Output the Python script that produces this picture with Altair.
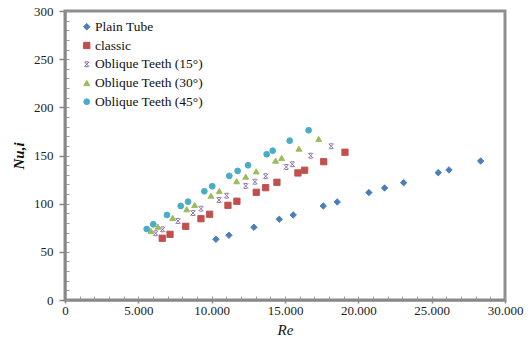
import altair as alt
import pandas as pd

series_names = ["Plain Tube", "classic", "Oblique Teeth (15°)", "Oblique Teeth (30°)", "Oblique Teeth (45°)"]

re_plain = [10290, 11180, 12880, 14610, 15560, 17610, 18560, 20720, 21790, 23090, 25450, 26180, 28340]
nu_plain = [63.0, 67.2, 75.5, 83.8, 88.3, 97.6, 101.8, 111.5, 116.3, 121.8, 132.2, 135.0, 144.3]

re_classic = [6630, 7160, 8230, 9270, 9860, 11110, 11720, 13040, 13680, 14450, 15880, 16340, 17640, 19090]
nu_classic = [64.1, 68.2, 76.5, 84.4, 89.0, 98.3, 102.5, 111.8, 116.6, 122.2, 131.9, 134.7, 143.6, 153.4]

re_15 = [6180, 6660, 7700, 8730, 9270, 10500, 11020, 12320, 12950, 13680, 15090, 15500, 16750, 18150]
nu_15 = [69.3, 73.4, 82.0, 90.3, 94.8, 103.8, 108.3, 118.4, 122.8, 128.5, 138.1, 140.9, 149.8, 159.6]

re_30 = [5860, 6340, 7340, 8300, 8840, 9950, 10520, 11700, 12320, 13040, 14360, 14770, 15950, 17300]
nu_30 = [71.7, 76.1, 85.2, 94.2, 98.7, 108.3, 113.2, 123.3, 128.0, 133.6, 144.7, 147.5, 157.1, 167.2]

re_45 = [5570, 6020, 6950, 7890, 8390, 9500, 10040, 11200, 11770, 12480, 13750, 14160, 15320, 16610]
nu_45 = [73.7, 78.6, 88.3, 97.6, 102.1, 112.9, 118.1, 128.8, 134.0, 139.9, 151.3, 155.0, 165.4, 176.2]

x_major = [0, 5000, 10000, 15000, 20000, 25000, 30000]
x_minor = list(range(0, 30001, 1000))
y_major = [0, 50, 100, 150, 200, 250, 300]
y_minor = list(range(0, 301, 10))

colors = ["#4A7EBB", "#C0504D", "#8064A2", "#9BBB59", "#4BACC6"]
star_path = "M-0.8,-0.8L0.8,0.8M0.8,-0.8L-0.8,0.8M-0.55,-0.8L0.55,-0.8M-0.55,0.8L0.55,0.8"
shapes = ["diamond", "square", star_path, "triangle-up", "circle"]
sizes = [42, 34, 38, 26, 26]

rows = []
for name, xs, ys in zip(series_names,
                        [re_plain, re_classic, re_15, re_30, re_45],
                        [nu_plain, nu_classic, nu_15, nu_30, nu_45]):
    for a, b in zip(xs, ys):
        rows.append({"Re": a, "Nu": b, "series": name})
df = pd.DataFrame(rows)

FONT = "Liberation Serif"

legend = alt.Legend(
    title=None, orient="none", legendX=15, legendY=9,
    labelFont=FONT, labelFontSize=13.5, labelColor="#111",
    rowPadding=3.75, labelOffset=1.5, padding=0,
    symbolStrokeWidth=1.0,
)

xscale = alt.Scale(domain=[0, 30000], nice=False)
yscale = alt.Scale(domain=[0, 300], nice=False)

points = alt.Chart(df).mark_point(filled=True, strokeWidth=0.9, opacity=1).encode(
    x=alt.X("Re:Q", scale=xscale, axis=alt.Axis(
        values=x_major, orient="bottom", title="Re", titleFont=FONT, titleFontStyle="italic",
        titleFontWeight="normal", titleFontSize=15, titleColor="#111",
        titleX=220, titleY=29, titleBaseline="middle",
        labelFont=FONT, labelFontSize=13, labelColor="#222",
        labelExpr="replace(format(datum.value, ','), ',', '.')",
        tickSize=3, tickColor="#868686", tickWidth=1.5, labelPadding=1,
        domainColor="#868686", domainWidth=2, grid=False,
        labelFlush=False, labelOverlap=False)),
    y=alt.Y("Nu:Q", scale=yscale, axis=alt.Axis(
        values=y_major, orient="left", title="Nu,i", titleFont=FONT, titleFontStyle="italic",
        titleFontWeight="bold", titleFontSize=15, titleColor="#111",
        titleX=-47, titleY=144.5, titleBaseline="middle", titleAngle=270,
        labelFont=FONT, labelFontSize=13, labelColor="#222",
        tickSize=6, tickColor="#868686", tickWidth=1.5, labelPadding=6,
        domainColor="#868686", domainWidth=2, grid=False,
        labelFlush=False, labelOverlap=False)),
    fill=alt.Fill("series:N", scale=alt.Scale(domain=series_names, range=colors), legend=legend),
    stroke=alt.Stroke("series:N", scale=alt.Scale(domain=series_names, range=colors), legend=legend),
    shape=alt.Shape("series:N", scale=alt.Scale(domain=series_names, range=shapes), legend=legend),
    size=alt.Size("series:N", scale=alt.Scale(domain=series_names, range=sizes), legend=legend),
)

minor = alt.Chart(df).mark_point(opacity=0).encode(
    x=alt.X("Re:Q", scale=xscale, axis=alt.Axis(
        values=x_minor, orient="bottom", title=None, labels=False, domain=False,
        tickSize=4, offset=-4, tickColor="#9a9a9a", tickWidth=1, grid=False)),
    y=alt.Y("Nu:Q", scale=yscale, axis=alt.Axis(
        values=y_minor, orient="left", title=None, labels=False, domain=False,
        tickSize=4, offset=-4, tickColor="#9a9a9a", tickWidth=1, grid=False)),
)

chart = alt.layer(minor, points).resolve_axis(x="independent", y="independent").properties(
    width=440, height=289,
    autosize=alt.AutoSizeParams(type="none"),
    padding={"left": 65, "top": 11, "right": 23, "bottom": 45},
    background="white",
).configure(font=FONT).configure_view(stroke="#8E8E8E", strokeWidth=3)

chart.save("out.html", embed_options={"renderer": "svg", "actions": False})
